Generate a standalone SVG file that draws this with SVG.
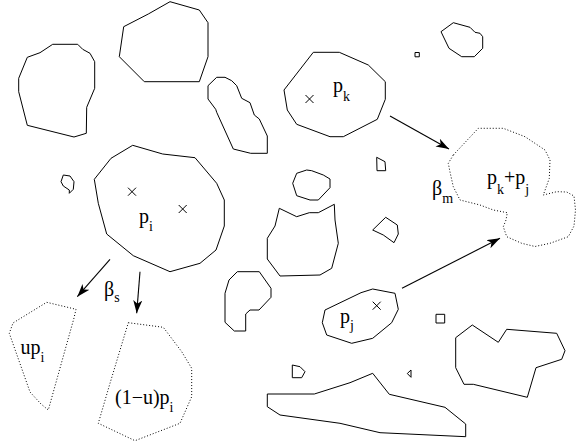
<svg xmlns="http://www.w3.org/2000/svg" width="576" height="444" viewBox="0 0 576 444">
<defs>
<marker id="ah" markerWidth="14" markerHeight="10" refX="13" refY="4.5" orient="auto" markerUnits="userSpaceOnUse">
<path d="M0,0 L13,4.5 L0,9 L3.5,4.5 Z" fill="#000"/>
</marker>
</defs>
<style>
.o{fill:none;stroke:#000;stroke-width:1;stroke-linejoin:round}
.d{fill:none;stroke:#000;stroke-width:1;stroke-dasharray:1 2}
.x{stroke:#000;stroke-width:1}
.c{fill:none;stroke:#000;stroke-width:1.1}
text{font-family:"Liberation Serif","Times New Roman",serif;font-size:20px;fill:#000}
.s{font-size:14px}
</style>
<rect width="576" height="444" fill="#fff"/>

<g id="blob-left">
<polygon class="o" points="52.7,44.3 77.7,44.3 82.7,49.3 90,53.3 94.7,61.7 94.7,88.3 86.7,107.3 86.3,133.3 74,137 27.3,125.3 18.7,91.7 18.7,78.3 27.3,57.3 40,52.7"/>
</g>
<g id="blob-top">
<polygon class="o" points="170,1.7 199.3,10 208,22.7 208,56.7 199.3,81.7 144.3,81.7 119.3,56.7 123.7,26.7 148.3,14"/>
</g>
<g id="blob-long">
<polygon class="o" points="216.7,77.3 225,77.3 231.7,80.7 236.7,85.7 241.7,98.3 250,102.7 254.3,115 259.3,119 267.3,136 267.3,153.3 250.7,153.3 233.3,149 216.7,112.3 215.7,109.3 208,99 208,85.7"/>
</g>
<g id="pk">
<polygon class="o" points="313.3,52.3 339.3,52.3 368.3,65 385.3,81.7 385.3,99.3 377.3,119.3 343.3,136.7 330,136.7 296.7,124.3 287.3,110 284,90"/>
<path class="x" d="M305.5,95 L313.5,103 M313.5,95 L305.5,103"/>
<text x="333" y="92">p<tspan class="s" dy="9">k</tspan></text>
</g>
<g id="sq-top">
<rect class="o" x="415" y="52.5" width="4.3" height="4.3"/>
</g>
<g id="blob-tr">
<polygon class="o" points="441,31.7 453.3,22.7 470,27.3 475,32.3 480,33.3 482.7,36.7 482.7,48.3 474.3,56.7 461.7,56.7 449,48.3"/>
</g>
<g id="blob-small-left">
<polygon class="o" points="63.3,175 70,176 74,181.7 73.3,189.3 69.3,193.3 69.3,190 63.3,186 61,181.7"/>
</g>
<g id="pi">
<polygon class="o" points="132.7,145.3 162.7,154 195,157.7 216.7,183.3 224.3,200 224.3,226 216,250 200,263.3 170,271.7 133.3,255.7 106.7,234 98.3,203.3 94.3,179.3 111,158.3"/>
<path class="x" d="M128,187.7 L136,195.7 M136,187.7 L128,195.7"/>
<path class="x" d="M178.7,205 L186.7,213 M186.7,205 L178.7,213"/>
<text x="139" y="222.5">p<tspan class="s" dy="8.5">i</tspan></text>
</g>
<g id="blob-round">
<polygon class="o" points="296.7,173.3 306.7,170 311.7,170.7 323.3,175 330,179 330,187.7 318.3,200 310,200 296.7,195.7 292.7,183.3"/>
</g>
<g id="blob-cat">
<polygon class="o" points="279.3,208.3 296.7,216.7 309.3,212.7 318.3,212.7 334.3,204.3 335,220 338.3,243.3 331.7,268.3 320,275 280,276 267.3,259 267.3,238.3 275,226"/>
</g>
<g id="quad-small">
<polygon class="o" points="376.7,157.3 385,161.7 385.7,170.7 377,170.7"/>
</g>
<g id="quad-diamond">
<polygon class="o" points="385.7,217.3 397.3,225 398.3,234 394,242.7 383.3,235 372.7,230"/>
</g>
<g id="blob-p">
<polygon class="o" points="237.3,271.7 259.3,271.7 271,288.3 271,297.3 259,310 250,310 245.7,314 245.7,331 234.3,331 225,322.3 225,293.3 229,280"/>
</g>
<g id="pj">
<polygon class="o" points="361,292.7 372.7,289 395,293.3 398.3,309.3 391.7,322.7 372.7,338.3 351.7,343.3 326.7,335 322.3,322.7 325,310"/>
<path class="x" d="M372.7,301.7 L380.7,309.7 M380.7,301.7 L372.7,309.7"/>
<text x="340" y="322.5">p<tspan class="s" dy="7.5">j</tspan></text>
</g>
<g id="sq-mid">
<rect class="o" x="436" y="314.3" width="8.7" height="8.7"/>
</g>
<g id="blob-d">
<polygon class="o" points="292.3,365 300,366.7 305,371.7 301.7,377.7 292.3,377.7"/>
</g>
<g id="tri-small">
<polygon class="o" points="411,370 407.3,373.5 411,377.3"/>
</g>
<g id="blob-bottom">
<polygon class="o" points="267.3,394 314.3,394 350,382.7 372.7,373.3 389.3,394.3 445,407.3 465.7,424 465.7,436.7 380,432.7 340,423.3 280,415 267.3,406.7"/>
</g>
<g id="blob-right">
<polygon class="o" points="455.7,337.7 472.3,325 498.3,342.3 506.7,329.3 556.7,333.3 565,350.7 561.7,359.3 536,367.7 527.3,397.3 473.3,384.3 464,384.3 455.7,367.7"/>
</g>
<g id="merged">
<polygon class="d" points="453.3,155 478.3,128.3 503.3,128.3 525,136.7 545,150 550,160 549.3,178.3 543.3,195 556.7,191.7 566.7,192 574,196 575.5,210 574,226 568.3,236.7 550,243.3 535,246.5 521.7,243.3 506.7,236.7 503.3,226.7 506,220 507.3,212.7 493.3,210 480,205 460,200 453.3,186.7 450,172 448.3,163.3"/>
<text x="487" y="184">p<tspan class="s" dy="9.5">k</tspan><tspan dy="-9.5">+p</tspan><tspan class="s" dy="9.5">j</tspan></text>
<text x="432" y="195">β<tspan class="s" dy="8">m</tspan></text>
</g>
<g id="split-u">
<polygon class="d" points="46.7,302.3 76,309.3 74,318 48.3,410 41,404 30,392 9.3,333.3 13,323"/>
<text x="20.5" y="354">up<tspan class="s" dy="7.5">i</tspan></text>
</g>
<g id="split-1u">
<polygon class="d" points="128.3,322.7 163.3,327.3 181.7,351.7 191.7,368.3 191.7,396.7 180,423.3 135,440.7 98.3,423.3 110,383.3"/>
<text x="115" y="404">(1−u)p<tspan class="s" dy="8">i</tspan></text>
</g>
<g id="label-beta-s">
<text x="104" y="295.5">β<tspan class="s" dy="6">s</tspan></text>
</g>

<g id="connectors">
<line class="c" x1="390" y1="116" x2="449" y2="149" marker-end="url(#ah)"/>
<line class="c" x1="402" y1="288.3" x2="500" y2="238.3" marker-end="url(#ah)"/>
<line class="c" x1="110" y1="259.3" x2="77.3" y2="296.7" marker-end="url(#ah)"/>
<line class="c" x1="140" y1="271.7" x2="136.7" y2="313.3" marker-end="url(#ah)"/>
</g>
</svg>
